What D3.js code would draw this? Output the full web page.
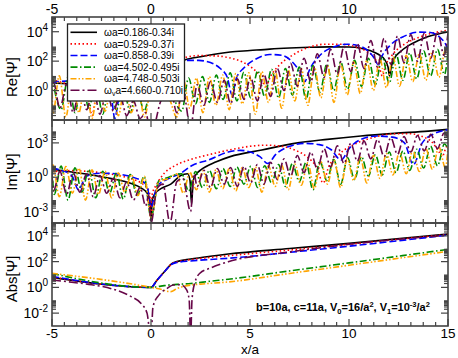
<!DOCTYPE html>
<html><head><meta charset="utf-8">
<script src="https://cdn.jsdelivr.net/npm/d3@7"></script>
<style>body{margin:0;background:#fff}svg{display:block}text{font-family:"Liberation Sans",Arial,Helvetica,sans-serif}</style>
</head><body>
<svg id="c" width="458" height="358"></svg>
<script>
// ---------- data (x/a , log10 of |value|) ----------
const xTicks = [-5, 0, 5, 10, 15];
const seriesNames = ["ωa=0.186-0.34i","ωa=0.529-0.37i","ωa=0.858-0.39i","ωa=4.502-0.495i","ωa=4.748-0.503i","ω_va=4.660-0.710i"];

const re0 = [[-5,0.52],[-4,0.45],[-3,0.37],[-2,0.27],[-1,0.14],[0,0],[0.3,0.35],[0.7,1.05],[1.1,1.75],[1.7,2.08],[2.5,2.3],[3.2,2.47],[4,2.62],[5,2.72],[6,2.82],[7,2.89],[8,2.94],[9,2.97],[10,2.96],[10.6,2.88],[11.1,2.7],[11.5,2.45],[11.8,2.1],[11.97,1.6],[12.05,1.0],[12.13,1.6],[12.3,2.2],[12.6,2.65],[13,3.05],[13.5,3.4],[14,3.68],[14.5,3.85],[15,3.98]];
const re1 = [[-5,0.75],[-4.5,0.55],[-4,0.36],[-3.5,0.0],[-3.2,-0.4],[-2.97,-1.7],[-2.8,-0.6],[-2.5,-0.2],[-2,0.01],[-1,0.1],[0,0],[0.5,0.7],[1.1,1.6],[1.7,2.25],[2.5,2.38],[3.3,2.35],[4,2.22],[4.6,1.95],[5.1,1.55],[5.5,1.0],[5.8,0.3],[6.05,1.0],[6.5,1.75],[7.2,2.45],[8,2.95],[8.8,3.15],[9.6,3.15],[10.3,2.98],[10.9,2.65],[11.3,2.2],[11.55,1.5],[11.68,1.0],[11.85,1.7],[12.2,2.45],[12.8,3.15],[13.5,3.6],[14.2,3.9],[15,4.1]];
const re2 = [[-5,0.55],[-4.5,0.63],[-4,0.66],[-3.5,0.59],[-3,0.43],[-2.5,0.16],[-2.2,-0.13],[-2,-0.5],[-1.83,-1.9],[-1.6,-0.43],[-1.3,-0.13],[-1,-0.01],[-0.5,0.04],[0,0],[0.5,0.7],[1.1,1.6],[1.7,2.05],[2.4,2.05],[3,1.9],[3.5,1.5],[3.85,0.9],[4.1,-0.3],[4.3,0.8],[4.7,1.55],[5.3,2.15],[6,2.45],[6.6,2.4],[7.1,2.0],[7.5,1.3],[7.76,0.6],[8.0,1.4],[8.5,2.35],[9.2,2.95],[9.9,3.15],[10.5,3.05],[11.0,2.65],[11.3,2.15],[11.48,1.75],[11.65,2.3],[12.1,3.1],[12.8,3.7],[13.5,3.97],[14.1,3.95],[14.6,3.6],[14.9,3.1],[15,2.8]];
const re3 = [[-5,1.0],[-4.54,-1.3],[-4.19,0.9],[-3.84,-1.5],[-3.49,0.75],[-3.14,-1.2],[-2.79,0.6],[-2.44,-1.6],[-2.09,0.45],[-1.75,-1.3],[-1.40,0.3],[-1.05,-1.5],[-0.70,0.15],[-0.35,-1.4],[0,0],[0.5,-0.1],[1.0,-0.3],[1.55,-1.4],[1.9,0.85],[2.25,-0.9],[2.6,0.95],[2.95,-0.8],[3.3,1.05],[3.64,-0.6],[4.0,1.2],[4.34,-0.7],[4.69,1.25],[5.04,-0.5],[5.39,1.35],[5.74,-0.4],[6.09,1.45],[6.44,-0.5],[6.79,1.5],[7.14,-0.3],[7.49,1.6],[7.83,-0.6],[8.18,1.7],[8.53,-0.1],[8.88,1.8],[9.23,0.0],[9.58,1.95],[9.93,0.1],[10.28,2.05],[10.63,0.3],[10.98,2.2],[11.33,0.4],[11.68,2.3],[12.03,0.5],[12.38,2.45],[12.72,0.7],[13.07,2.55],[13.42,0.8],[13.77,2.7],[14.12,1.0],[14.47,2.8],[14.82,1.1],[15,2.6]];
const re4 = [[-5,0.9],[-4.96,-1.6],[-4.63,1.01],[-4.30,-1.8],[-3.97,0.87],[-3.64,-1.5],[-3.31,0.72],[-2.98,-1.9],[-2.65,0.58],[-2.32,-1.4],[-1.99,0.43],[-1.65,-1.7],[-1.32,0.29],[-0.99,-1.5],[-0.66,0.14],[-0.33,-1.8],[0,0],[0.5,-0.2],[0.9,-0.5],[1.3,-1.8],[1.63,0.75],[1.96,-1.2],[2.29,0.85],[2.62,-1.5],[2.95,0.95],[3.28,-1.0],[3.62,1.05],[3.95,-1.3],[4.28,1.15],[4.61,-0.9],[4.94,1.2],[5.27,-1.6],[5.6,1.3],[5.93,-0.8],[6.27,1.35],[6.6,-1.2],[6.93,1.4],[7.26,-0.7],[7.59,1.5],[7.92,-1.0],[8.25,1.6],[8.58,-0.5],[8.91,1.7],[9.24,-0.8],[9.58,1.8],[9.91,-0.3],[10.24,1.95],[10.57,-0.2],[10.9,2.05],[11.23,0.0],[11.56,2.15],[11.89,0.2],[12.22,2.3],[12.55,0.3],[12.89,2.4],[13.22,0.6],[13.55,2.5],[13.88,0.7],[14.21,2.65],[14.54,0.9],[14.87,2.75],[15,2.5]];
const re5 = [[-5,0.5],[-4.93,0.55],[-4.6,-1.2],[-4.26,0.45],[-3.93,-1.5],[-3.59,0.35],[-3.25,-1.3],[-2.92,0.22],[-2.58,-1.6],[-2.24,0.0],[-1.9,-1.4],[-1.57,-0.3],[-1.23,-1.7],[-0.89,-0.7],[-0.55,-1.9],[-0.27,-1.5],[0,-3],[0.5,-0.7],[1.0,0.0],[1.3,-1.5],[1.6,0.1],[2.0,-2.5],[2.33,0.4],[2.67,-1.0],[3.0,0.6],[3.35,-0.8],[3.7,0.7],[4.02,-0.9],[4.36,0.8],[4.7,-0.6],[5.03,0.9],[5.37,-0.7],[5.7,1.1],[6.04,-0.4],[6.38,1.5],[6.72,0.0],[7.05,1.85],[7.39,0.3],[7.73,2.2],[8.07,0.6],[8.4,2.5],[8.74,0.9],[9.07,2.8],[9.41,1.1],[9.75,3.0],[10.09,1.3],[10.42,3.2],[10.76,1.5],[11.1,3.4],[11.44,1.6],[11.77,3.55],[12.11,1.8],[12.45,3.7],[12.78,1.9],[13.12,3.8],[13.46,2.0],[13.8,3.9],[14.13,2.2],[14.47,4.0],[14.8,2.4],[15,3.9]];

const im0 = [[-5,0.7],[-4,0.45],[-3,0.2],[-2,-0.12],[-1,-0.55],[-0.5,-0.94],[-0.2,-1.38],[-0.06,-2.0],[0,-3.7],[0.06,-2.0],[0.2,-1.45],[0.5,-1.0],[1.0,-0.6],[1.5,0.15],[1.85,0.3],[1.97,-0.3],[2.05,-2.4],[2.13,-0.3],[2.3,0.3],[2.5,0.62],[3.3,1.35],[4,1.8],[5.6,2.38],[7.25,2.96],[8.9,3.31],[10.6,3.6],[12.3,3.83],[14,4.03],[15,4.18]];
const im1 = [[-5,0.48],[-4,0.575],[-3,0.48],[-2,0.26],[-1,-0.14],[-0.5,-0.5],[-0.2,-0.94],[-0.06,-1.5],[0,-3.2],[0.06,-1.5],[0.3,-0.6],[0.7,0.4],[1.2,1.0],[2,1.55],[3,2.0],[4,2.4],[5,2.7],[5.8,2.8],[6.6,2.7],[7.3,2.35],[7.9,1.75],[8.35,0.9],[8.7,-0.5],[8.95,0.8],[9.5,2.0],[10.3,2.9],[11.3,3.5],[12.3,3.8],[13.1,3.8],[13.7,3.55],[14.2,3.05],[14.55,2.2],[14.7,1.8],[14.9,2.6],[15,2.9]];
const im2 = [[-5,0.8],[-4.5,0.58],[-4,0.14],[-3.66,-1.1],[-3.3,0.04],[-3,0.24],[-2.5,0.35],[-2,0.33],[-1.5,0.24],[-1,0.05],[-0.5,-0.3],[-0.2,-0.74],[0,-2.6],[0.3,-0.8],[0.8,-0.2],[1.5,0.34],[2.1,1.05],[2.9,1.5],[3.9,2.2],[4.5,2.35],[5.1,2.15],[5.5,1.8],[5.9,1.2],[6.3,2.0],[7,2.7],[7.75,2.96],[8.5,2.85],[9.1,2.4],[9.6,1.5],[10.0,2.5],[10.6,3.3],[11.4,3.6],[12.2,3.5],[12.8,3.0],[13.25,1.1],[13.7,3.0],[14.3,3.8],[15,4.15]];
const im3 = [[-5,0.9],[-4.89,-1.5],[-4.54,0.975],[-4.19,-2.0],[-3.84,0.825],[-3.49,-1.3],[-3.14,0.675],[-2.79,-1.8],[-2.44,0.525],[-2.09,-1.4],[-1.75,0.375],[-1.40,-1.9],[-1.05,0.225],[-0.70,-1.6],[-0.35,0.075],[0,-3.5],[0.4,-0.3],[0.9,0.0],[1.2,0.2],[1.55,0.3],[1.9,-1.2],[2.25,0.5],[2.6,-0.9],[2.95,0.6],[3.3,-1.0],[3.64,0.75],[4.0,-0.8],[4.34,0.9],[4.69,-0.6],[5.04,0.95],[5.39,-0.9],[5.74,1.0],[6.09,-0.5],[6.44,1.1],[6.79,-0.8],[7.14,1.2],[7.49,-0.4],[7.83,1.3],[8.18,-1.1],[8.53,1.4],[8.88,-0.3],[9.23,1.55],[9.58,-0.6],[9.93,1.7],[10.28,-0.2],[10.63,1.8],[10.98,0.1],[11.33,1.95],[11.68,0.2],[12.03,2.2],[12.38,0.4],[12.72,2.3],[13.07,0.6],[13.42,2.45],[13.77,0.8],[14.12,2.7],[14.47,1.0],[14.82,2.9],[15,2.5]];
const im4 = [[-5,1.0],[-4.96,1.08],[-4.63,-1.7],[-4.30,0.94],[-3.97,-1.4],[-3.64,0.79],[-3.31,-2.0],[-2.98,0.65],[-2.65,-1.5],[-2.32,0.51],[-1.99,-1.8],[-1.65,0.36],[-1.32,-1.3],[-0.99,0.22],[-0.66,-1.6],[-0.33,0.07],[0,-3.5],[0.4,-0.4],[0.9,-0.1],[1.3,0.3],[1.63,-1.4],[1.96,0.45],[2.29,-1.1],[2.62,0.55],[2.95,-1.3],[3.28,0.65],[3.62,-1.0],[3.95,0.75],[4.28,-1.2],[4.61,0.85],[4.94,-0.9],[5.27,0.9],[5.6,-1.3],[5.93,1.0],[6.27,-0.8],[6.6,1.05],[6.93,-1.1],[7.26,1.15],[7.59,-0.7],[7.92,1.25],[8.25,-1.0],[8.58,1.35],[8.91,-0.6],[9.24,1.5],[9.58,-0.9],[9.91,1.6],[10.24,-0.3],[10.57,1.75],[10.9,-0.5],[11.23,1.9],[11.56,-0.1],[11.89,2.05],[12.22,0.2],[12.55,2.2],[12.89,0.3],[13.22,2.35],[13.55,0.5],[13.88,2.5],[14.21,0.7],[14.54,2.65],[14.87,0.8],[15,2.6]];
const im5 = [[-5,0.3],[-4.93,-1.2],[-4.6,0.5],[-4.26,-1.5],[-3.93,0.4],[-3.59,-1.3],[-3.25,0.3],[-2.92,-1.7],[-2.58,0.15],[-2.24,-1.4],[-1.9,-0.1],[-1.57,-1.8],[-1.23,-0.4],[-0.89,-2.0],[-0.55,-0.9],[-0.27,-2.5],[-0.12,-1.6],[0,-4],[0.3,-1.0],[0.6,-0.6],[0.96,-4],[1.3,-0.4],[1.6,-0.1],[2.0,-3],[2.17,0.3],[2.33,-0.8],[2.67,0.6],[3.0,-0.9],[3.35,0.75],[3.7,-0.6],[4.02,0.85],[4.36,-0.8],[4.7,0.95],[5.03,-0.5],[5.37,1.1],[5.7,-0.6],[6.04,1.3],[6.38,-0.2],[6.72,1.6],[7.05,0.1],[7.39,1.9],[7.73,0.4],[8.07,2.2],[8.4,0.7],[8.74,2.5],[9.07,0.9],[9.41,2.75],[9.75,1.2],[10.09,2.95],[10.42,1.4],[10.76,3.15],[11.1,1.6],[11.44,3.3],[11.77,1.8],[12.11,3.45],[12.45,2.0],[12.78,3.55],[13.12,2.2],[13.46,3.65],[13.8,2.3],[14.13,3.75],[14.47,2.5],[14.8,3.85],[15,3.5]];

const ab0 = [[-5,0.78],[0,0],[0.3,0.55],[0.7,1.25],[1.05,1.85],[1.3,2.0],[2,2.2],[3,2.42],[3.9,2.59],[7,3.02],[10,3.42],[15,4.14]];
const ab1 = [[-5,0.8],[0,0],[0.3,0.55],[0.7,1.25],[1.05,1.82],[1.3,1.97],[2,2.15],[3,2.33],[3.9,2.46],[7,2.9],[10,3.35],[15,4.12]];
const ab2 = [[-5,0.85],[0,0],[0.3,0.55],[0.7,1.25],[1.05,1.8],[1.3,1.93],[2,2.05],[3,2.17],[3.9,2.26],[7,2.72],[10,3.2],[15,4.06]];
const ab3 = [[-5,1.07],[0,0],[0.5,0.1],[1,0.2],[1.5,0.25],[2,0.3],[3,0.48],[3.9,0.63],[7,1.28],[10,1.9],[15,2.95]];
const ab4 = [[-5,1.09],[0,0],[0.5,-0.15],[0.8,-0.3],[1.0,-0.33],[1.3,-0.1],[1.7,0.1],[2.5,0.25],[3.9,0.42],[7,1.08],[10,1.72],[15,2.8]];
const ab5 = [[-5,0.57],[-4,0.4],[-3,0.2],[-2,-0.1],[-1,-0.72],[-0.5,-1.25],[-0.2,-2.0],[0,-4],[0.1,-1.5],[0.4,-0.6],[0.8,-0.1],[1.13,0.19],[1.5,0.2],[1.8,-0.2],[1.93,-1.0],[2.0,-4],[2.07,-1.0],[2.2,0.3],[2.47,1.1],[3,1.5],[3.9,1.99],[7,2.75],[10,3.35],[15,4.05]];

// ---------- styles ----------
const colors = ["#000000","#ff0000","#0000ff","#008b00","#ffa500","#670748"];
const dashes = [null,"1.5,2.5","7,3","7,2.5,1.5,2.5","6,2,1.5,2,1.5,2","9,3,2,3"];

const L = 52, R = 448;
const panels = [
  {label:"Re[Ψ]", top:17,  bottom:120, domain:[1e-2,1e5], majors:[-2,0,2,4], labeled:[0,2,4],    labelY:77,  data:[re0,re1,re2,re3,re4,re5]},
  {label:"Im[Ψ]", top:120, bottom:223, domain:[1e-4,1e5], majors:[-3,0,3],   labeled:[-3,0,3],   labelY:172, data:[im0,im1,im2,im3,im4,im5]},
  {label:"Abs[Ψ]",top:223, bottom:326, domain:[1e-3,1e5], majors:[-2,0,2,4], labeled:[-2,0,2,4], labelY:279, data:[ab0,ab1,ab2,ab3,ab4,ab5]}
];

const svg = d3.select("#c");
const x = d3.scaleLinear([-5,15],[L,R]);
const axisCol = "#444";

panels.forEach((p,pi)=>{
  const y = d3.scaleLog(p.domain,[p.bottom,p.top]);
  const clipId = "clip"+pi;
  svg.append("clipPath").attr("id",clipId).append("rect")
    .attr("x",L).attr("y",p.top).attr("width",R-L).attr("height",p.bottom-p.top);
  const line = d3.line().x(d=>x(d[0])).y(d=>y(Math.pow(10,d[1]))).curve(d3.curveMonotoneX);
  const g = svg.append("g").attr("clip-path",`url(#${clipId})`);
  p.data.forEach((s,i)=>{
    g.append("path").attr("d",line(s)).attr("fill","none")
      .attr("stroke",colors[i]).attr("stroke-width",1.6)
      .attr("stroke-dasharray",dashes[i]).attr("stroke-linejoin","round");
  });
  const tg = svg.append("g").attr("stroke",axisCol).attr("stroke-width",1.2);
  const inDom = v => v>=p.domain[0]*0.999 && v<=p.domain[1]*1.001;
  p.majors.forEach(n=>{
    const v = Math.pow(10,n);
    if(inDom(v)){
      tg.append("line").attr("x1",L).attr("x2",L+7).attr("y1",y(v)).attr("y2",y(v));
      tg.append("line").attr("x1",R).attr("x2",R-7).attr("y1",y(v)).attr("y2",y(v));
    }
    for(let k=2;k<=9;k++){
      const m = k*v;
      if(inDom(m)){
        tg.append("line").attr("x1",L).attr("x2",L+4).attr("y1",y(m)).attr("y2",y(m));
        tg.append("line").attr("x1",R).attr("x2",R-4).attr("y1",y(m)).attr("y2",y(m));
      }
    }
  });
  p.labeled.forEach(n=>{
    const t = svg.append("text").attr("x",48).attr("y",y(Math.pow(10,n))+5)
      .attr("text-anchor","end").attr("font-size",14);
    t.append("tspan").text("10");
    t.append("tspan").attr("dy",-6).attr("font-size",10).text(String(n));
  });
  svg.append("text").attr("transform",`translate(17,${p.labelY}) rotate(-90)`)
    .attr("text-anchor","middle").attr("font-size",15).text(p.label);
  svg.append("rect").attr("x",L).attr("y",p.top).attr("width",R-L).attr("height",p.bottom-p.top)
    .attr("fill","none").attr("stroke",axisCol).attr("stroke-width",1.6);
});

const xMinor = d3.range(-5,15.0001,0.625);
const hLines = [{y:17,up:false,down:true},{y:120,up:true,down:true},{y:223,up:true,down:true},{y:326,up:true,down:false}];
const xg = svg.append("g").attr("stroke",axisCol).attr("stroke-width",1.2);
hLines.forEach(h=>{
  xMinor.forEach(v=>{
    const major = xTicks.some(t=>Math.abs(t-v)<1e-6);
    const len = major?7:4;
    const y1 = h.up ? h.y-len : h.y, y2 = h.down ? h.y+len : h.y;
    xg.append("line").attr("x1",x(v)).attr("x2",x(v)).attr("y1",y1).attr("y2",y2);
  });
});
xTicks.forEach(v=>{
  svg.append("text").attr("x",x(v)).attr("y",13.5).attr("text-anchor","middle").attr("font-size",14).text(v);
  svg.append("text").attr("x",x(v)).attr("y",338).attr("text-anchor","middle").attr("font-size",13.5).text(v);
});
svg.append("text").attr("x",250).attr("y",354).attr("text-anchor","middle").attr("font-size",13.5).text("x/a");

// legend
const lg = svg.append("g");
lg.append("rect").attr("x",67.5).attr("y",24).attr("width",117).attr("height",77)
  .attr("fill","#fff").attr("stroke","#222").attr("stroke-width",1.3);
seriesNames.forEach((name,i)=>{
  const yy = 32.3 + i*11.6;
  lg.append("line").attr("x1",70.5).attr("x2",97).attr("y1",yy).attr("y2",yy)
    .attr("stroke",colors[i]).attr("stroke-width",1.6).attr("stroke-dasharray",dashes[i]);
  const t = lg.append("text").attr("x",104).attr("y",yy+3.6).attr("font-size",10.1);
  if(name.includes("_")){
    const [a,b] = name.split("_");
    t.append("tspan").text(a);
    t.append("tspan").attr("font-size",7).attr("dy",2.5).text(b.charAt(0));
    t.append("tspan").attr("dy",-2.5).text(b.slice(1));
  } else t.text(name);
});

// annotation
const an = svg.append("text").attr("x",256).attr("y",311).attr("font-size",11).attr("font-weight","bold");
const parts = [["b=10a, c=11a, V",0],["0",1],["=16/a",0],["2",-1],[", V",0],["1",1],["=10",0],["-3",-1],["/a",0],["2",-1]];
let cur = 0;
parts.forEach(([s,k])=>{
  const target = k===1?2.5:(k===-1?-4.5:0);
  const ts = an.append("tspan").attr("dy",target-cur).text(s);
  if(k!==0) ts.attr("font-size",7.5);
  cur = target;
});
</script></body></html>
